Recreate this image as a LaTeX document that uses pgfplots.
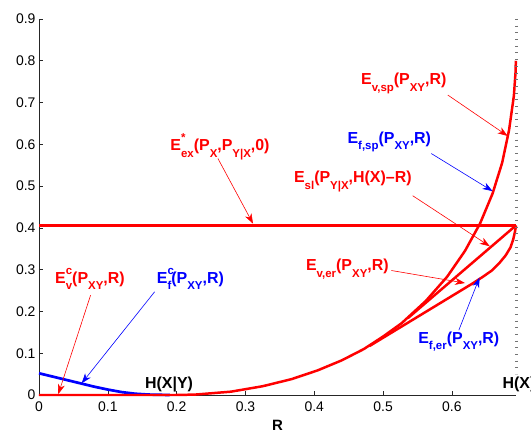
\documentclass[border=0pt]{standalone}
\usepackage{pgfplots}
\pgfplotsset{compat=1.18}
\usepackage{fontspec}
\setmainfont{Liberation Sans}
\usetikzlibrary{arrows.meta}
\newcommand{\lab}{\fontsize{16}{18}\selectfont\bfseries}
\newcommand{\dn}[1]{\raisebox{-0.40em}{\fontsize{11.5}{12}\selectfont #1}}
\newcommand{\up}[1]{\raisebox{0.55em}{\fontsize{11.5}{12}\selectfont #1}}
\newcommand{\updn}[2]{\rlap{\up{#1}}\dn{#2}}
\tikzset{arr/.style={line width=0.6pt, -{Stealth[length=10pt,width=7pt,inset=3pt]}}}

\begin{document}
\begin{tikzpicture}
\begin{axis}[
  scale only axis, width=477bp, height=376bp,
  xmin=0, xmax=0.6931, ymin=0, ymax=0.9,
  axis lines*=left,
  axis line style={black!85, line width=0.6pt},
  tick align=inside, major tick length=4bp,
  tick style={black!85, line width=0.6pt},
  xtick={0,0.1,0.2,0.3,0.4,0.5,0.6},
  ytick={0,0.1,0.2,0.3,0.4,0.5,0.6,0.7,0.8,0.9},
  tick label style={font=\fontsize{14}{16}\selectfont},
  xticklabel style={yshift=-3bp},
  /pgf/number format/assume math mode=true,
  xlabel={\textbf{R}},
  xlabel style={font=\fontsize{15}{17}\selectfont, yshift=-2bp},
  clip=false,
]
\coordinate (sw) at (rel axis cs:0,0);
\coordinate (ne) at (rel axis cs:1,1);

% E_f^c (blue)
\addplot[blue, line width=2.7pt] coordinates {
  (0,0.052) (0.02,0.044) (0.04,0.036) (0.06,0.028) (0.08,0.020)
  (0.10,0.013) (0.12,0.007) (0.14,0.003) (0.16,0.001) (0.19,0)};

% expurgated, horizontal
\addplot[red, line width=2.5pt] coordinates {(0,0.406) (0.6931,0.406)};

% sphere packing
\addplot[red, line width=2.5pt] coordinates {
  (0,0) (0.1985,0) (0.227,0.001) (0.279,0.008) (0.325,0.021) (0.367,0.038)
  (0.405,0.059) (0.440,0.083) (0.472,0.110) (0.500,0.140) (0.527,0.172)
  (0.562,0.225) (0.593,0.283) (0.619,0.345) (0.641,0.411) (0.659,0.482)
  (0.673,0.556) (0.683,0.634) (0.690,0.716) (0.6924,0.772) (0.6929,0.800)};

% straight line E_sl
\addplot[red, line width=2.5pt] coordinates {(0.536,0.184) (0.6931,0.406)};

% random coding
\addplot[red, line width=2.5pt] coordinates {
  (0.480,0.117) (0.500,0.137) (0.520,0.157) (0.543,0.180) (0.570,0.207)
  (0.592,0.229) (0.615,0.252) (0.630,0.267) (0.645,0.283) (0.658,0.298)
  (0.669,0.316) (0.678,0.334) (0.685,0.353) (0.689,0.372) (0.6915,0.390)
  (0.6931,0.406)};

% H(X) marker line
\draw[black!55, line width=2.5bp, dash pattern=on 0.9bp off 5.8bp]
  (axis cs:0.6941,0.9) -- (axis cs:0.6941,0.05);

% annotations
\node[red, inner sep=0] at (axis cs:0.263,0.594)
  {\lab E\updn{*}{ex}(P\dn{X},P\dn{Y|X},0)};
\draw[red, arr] (axis cs:0.26,0.566) -- (axis cs:0.311,0.41);

\node[red, inner sep=0] at (axis cs:0.530,0.746) {\lab E\dn{v,sp}(P\dn{XY},R)};
\draw[red, arr] (axis cs:0.594,0.718) -- (axis cs:0.681,0.62);

\node[blue, inner sep=0] at (axis cs:0.509,0.606) {\lab E\dn{f,sp}(P\dn{XY},R)};
\draw[blue, arr] (axis cs:0.570,0.578) -- (axis cs:0.659,0.488);

\node[red, inner sep=0] at (axis cs:0.456,0.511) {\lab E\dn{sl}(P\dn{Y|X},H(X)\textendash R)};
\draw[red, arr] (axis cs:0.543,0.477) -- (axis cs:0.655,0.356);

\node[red, inner sep=0] at (axis cs:0.448,0.301) {\lab E\dn{v,er}(P\dn{XY},R)};
\draw[red, arr] (axis cs:0.512,0.298) -- (axis cs:0.619,0.268);

\node[blue, inner sep=0] at (axis cs:0.610,0.128) {\lab E\dn{f,er}(P\dn{XY},R)};
\draw[blue, arr] (axis cs:0.610,0.155) -- (axis cs:0.640,0.281);

\node[red, inner sep=0] at (axis cs:0.074,0.277) {\lab E\updn{c}{v}(P\dn{XY},R)};
\draw[red, arr] (axis cs:0.075,0.239) -- (axis cs:0.028,0.002);

\node[blue, inner sep=0] at (axis cs:0.220,0.277) {\lab E\updn{c}{f}(P\dn{XY},R)};
\draw[blue, arr] (axis cs:0.168,0.247) -- (axis cs:0.062,0.028);

\node[inner sep=0] at (axis cs:0.189,0.026) {\lab H(X|Y)};
\node[inner sep=0, anchor=west] at (axis cs:0.6734,0.026) {\lab H(X)};
\end{axis}
\pgfresetboundingbox
\path ([xshift=-39bp,yshift=-37bp]sw) rectangle ([xshift=15bp,yshift=19bp]ne);
\end{tikzpicture}
\end{document}
